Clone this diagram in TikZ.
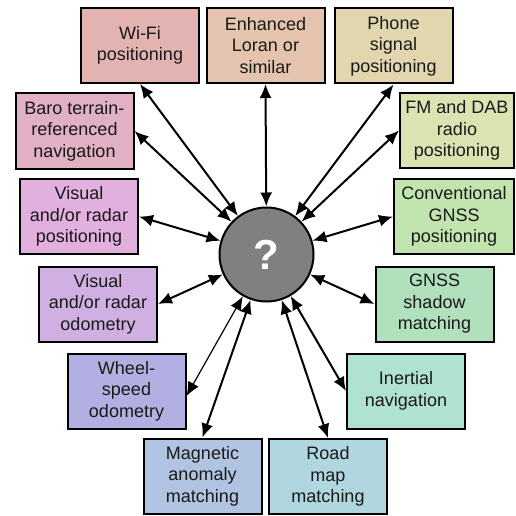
\documentclass[tikz,border=0pt]{standalone}
\usepackage{fontspec}
\setmainfont{Liberation Sans}
\usetikzlibrary{arrows.meta}

\definecolor{cWifi}{RGB}{227,179,178}
\definecolor{cLoran}{RGB}{228,196,174}
\definecolor{cPhone}{RGB}{226,214,174}
\definecolor{cFm}{RGB}{218,228,178}
\definecolor{cConv}{RGB}{194,228,174}
\definecolor{cShadow}{RGB}{176,224,188}
\definecolor{cInert}{RGB}{176,226,212}
\definecolor{cRoad}{RGB}{176,214,224}
\definecolor{cMag}{RGB}{176,196,226}
\definecolor{cWheel}{RGB}{178,176,226}
\definecolor{cVisOdo}{RGB}{208,176,226}
\definecolor{cVisPos}{RGB}{226,176,222}
\definecolor{cBaro}{RGB}{226,176,196}
\definecolor{cHub}{RGB}{128,128,128}

\tikzset{
  method/.style={draw=black, line width=2pt, minimum width=118pt, minimum height=75pt,
    inner sep=2pt, align=center, font=\fontsize{18pt}{21.5pt}\selectfont, text=black!90},
  tip/.tip={Latex[length=14pt,width=12pt]},
  link/.style={line width=2pt, tip-tip},
  thinlink/.style={line width=1.2pt, tip-tip},
}

\begin{document}
\begin{tikzpicture}[x=1pt,y=-1pt]
\useasboundingbox (0,0) rectangle (515,516);

% central unknown
\node[circle, draw=black, line width=2pt, fill=cHub, minimum size=94pt, inner sep=0pt,
  text=white, font=\fontsize{42pt}{44pt}\selectfont\bfseries] (hub) at (266.5,254.5) {?};

% surrounding methods
\node[method, fill=cWifi]   (wifi)  at (140,45.5)  {Wi-Fi\\positioning};
\node[method, fill=cLoran]  (loran) at (265.5,45.5) {Enhanced\\Loran or\\similar};
\node[method, fill=cPhone]  (phone) at (393.5,46)  {Phone\\signal\\positioning};
\node[method, fill=cFm, minimum width=114pt] (fm) at (457,130.5) {FM and DAB\\radio\\positioning};
\node[method, fill=cConv, minimum width=120pt] (conv) at (454,216.5) {Conventional\\GNSS\\positioning};
\node[method, fill=cShadow] (shadow) at (434.5,304) {GNSS\\shadow\\matching};
\node[method, fill=cInert]  (inert) at (406,391)   {Inertial\\navigation};
\node[method, fill=cRoad]   (road)  at (328,476.5) {Road\\map\\matching};
\node[method, fill=cMag]    (mag)   at (202.5,476) {Magnetic\\anomaly\\matching};
\node[method, fill=cWheel]  (wheel) at (126.5,391) {Wheel-\\speed\\odometry};
\node[method, fill=cVisOdo] (visodo) at (98,304)   {Visual\\and/or radar\\odometry};
\node[method, fill=cVisPos] (vispos) at (79,216.5) {Visual\\and/or radar\\positioning};
\node[method, fill=cBaro]   (baro)  at (74.5,131)  {Baro terrain-\\referenced\\navigation};

% two-way links to the hub
\draw[link] (wifi.south) -- (hub);
\draw[link] (loran.south) -- (hub);
\draw[link] (phone.south) -- (hub);
\draw[link] (fm.west) -- (hub);
\draw[link] (conv.west) -- (hub);
\draw[link] (shadow.west) -- (hub);
\draw[link] (inert.west) -- (hub);
\draw[link] (road.north) -- (hub);
\draw[link] (mag.north) -- (hub);
\draw[thinlink] ([yshift=-5pt]wheel.east) -- (hub);
\draw[link] (visodo.east) -- (hub);
\draw[link] (vispos.east) -- (hub);
\draw[link] (baro.east) -- (hub);
\end{tikzpicture}
\end{document}
